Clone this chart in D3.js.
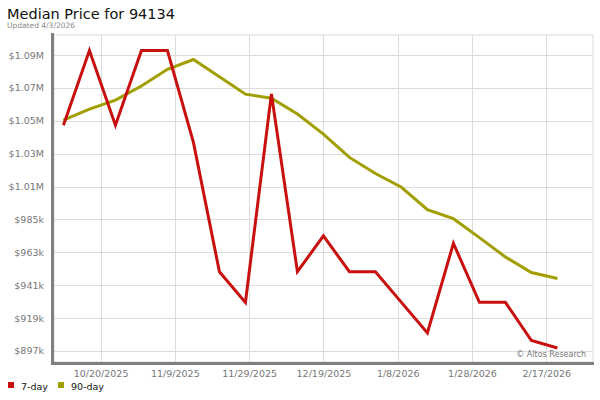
<!DOCTYPE html>
<html>
<head>
<meta charset="utf-8">
<script src="https://cdn.jsdelivr.net/npm/d3@7/dist/d3.min.js"></script>
<style>
  html, body { margin: 0; padding: 0; background: #fff; }
  svg { display: block; font-family: "DejaVu Sans", Verdana, sans-serif; }
</style>
</head>
<body>
<svg id="chart" width="600" height="400"></svg>
<script>
const dates = ["2025-10-10","2025-10-17","2025-10-24","2025-10-31","2025-11-07","2025-11-14","2025-11-21","2025-11-28","2025-12-05","2025-12-12","2025-12-19","2025-12-26","2026-01-02","2026-01-09","2026-01-16","2026-01-23","2026-01-30","2026-02-06","2026-02-13","2026-02-20"];
const sevenDay = [1048000,1098000,1048000,1098000,1098000,1036500,950000,929500,1069000,950000,974000,950000,950000,929500,909000,969000,929500,929500,904000,899000];
const ninetyDay = [1051500,1058800,1064800,1074300,1085500,1092000,1080500,1068800,1066100,1055500,1042100,1026500,1015700,1006500,991500,985500,972800,959900,949500,945500];
const yTickValues = [897000,919000,941000,963000,985000,1007000,1029000,1051000,1073000,1095000];
const yTickLabels = ["$897k","$919k","$941k","$963k","$985k","$1.01M","$1.03M","$1.05M","$1.07M","$1.09M"];
const xTickDates = ["2025-10-20","2025-11-09","2025-11-29","2025-12-19","2026-01-08","2026-01-28","2026-02-17"];
const xTickLabels = ["10/20/2025","11/9/2025","11/29/2025","12/19/2025","1/8/2026","1/28/2026","2/17/2026"];
const seriesNames = ["7-day","90-day"];
const seriesColors = ["#c8100f","#a19e00"];

const parse = d3.timeParse("%Y-%m-%d");
const svg = d3.select("#chart");
const L = 54, R = 593, T = 35, B = 362;

const x = d3.scaleTime()
  .domain([new Date(2025,9,7,11), new Date(2026,2,1,14)])
  .range([L, R]);
const y = d3.scaleLinear()
  .domain([889600, 1108400])
  .range([B, T]);

// Title
svg.append("text").attr("x", 7).attr("y", 19).attr("font-size", 14.5).attr("fill", "#111").text("Median Price for 94134");
svg.append("text").attr("x", 7).attr("y", 28).attr("font-size", 7.5).attr("fill", "#888").text("Updated 4/3/2026");

// plot frame
svg.append("rect").attr("x", L).attr("y", T).attr("width", R - L).attr("height", B - T)
  .attr("fill", "#fff").attr("stroke", "#dcdcdc").attr("stroke-width", 1);

// grid
const grid = svg.append("g");
grid.selectAll("line.h").data(yTickValues).join("line")
  .attr("x1", L).attr("x2", R)
  .attr("y1", d => Math.round(y(d)) + 0.5).attr("y2", d => Math.round(y(d)) + 0.5)
  .attr("stroke", "#dcdcdc").attr("stroke-width", 1);
grid.selectAll("line.v").data(xTickDates).join("line")
  .attr("y1", T).attr("y2", B)
  .attr("x1", d => Math.round(x(parse(d))) + 0.5).attr("x2", d => Math.round(x(parse(d))) + 0.5)
  .attr("stroke", "#dcdcdc").attr("stroke-width", 1);

// axes via d3
const yAxis = d3.axisLeft(y).tickValues(yTickValues).tickFormat((d, i) => yTickLabels[i]).tickSize(0).tickPadding(10);
const yg = svg.append("g").attr("transform", `translate(${L},0)`).call(yAxis);
yg.select(".domain").remove();
yg.selectAll("text").attr("font-size", 9.5).attr("fill", "#777").attr("font-family", "DejaVu Sans, sans-serif");

const xAxis = d3.axisBottom(x).tickValues(xTickDates.map(parse)).tickFormat((d, i) => xTickLabels[i]).tickSize(0).tickPadding(8);
const xg = svg.append("g").attr("transform", `translate(0,${B})`).call(xAxis);
xg.select(".domain").remove();
xg.selectAll("text").attr("font-size", 9.5).attr("fill", "#777").attr("font-family", "DejaVu Sans, sans-serif");

// thick axis bars
svg.append("rect").attr("x", L - 3).attr("y", T - 2).attr("width", 3).attr("height", B - T + 5).attr("fill", "#808080");
svg.append("rect").attr("x", L - 3).attr("y", B).attr("width", R - L + 4).attr("height", 3).attr("fill", "#808080");

// lines
const line = d3.line().x((d, i) => x(parse(dates[i]))).y(d => y(d));
[ninetyDay, sevenDay].forEach((s, k) => {
  const idx = k === 0 ? 1 : 0;
  svg.append("path").datum(s).attr("d", line)
    .attr("fill", "none").attr("stroke", seriesColors[idx]).attr("stroke-width", 3)
    .attr("stroke-linejoin", "miter").attr("stroke-linecap", "butt");
});

// credit
svg.append("text").attr("x", 586).attr("y", 357).attr("text-anchor", "end")
  .attr("font-size", 8).attr("fill", "#777").text("© Altos Research");

// legend
const lg = svg.append("g");
const legX = [8, 58];
seriesNames.forEach((n, i) => {
  lg.append("rect").attr("x", legX[i]).attr("y", 382).attr("width", 6).attr("height", 6).attr("fill", seriesColors[i]);
  lg.append("text").attr("x", legX[i] + 13).attr("y", 390).attr("font-size", 9.5).attr("fill", "#111").text(n);
});
</script>
</body>
</html>
